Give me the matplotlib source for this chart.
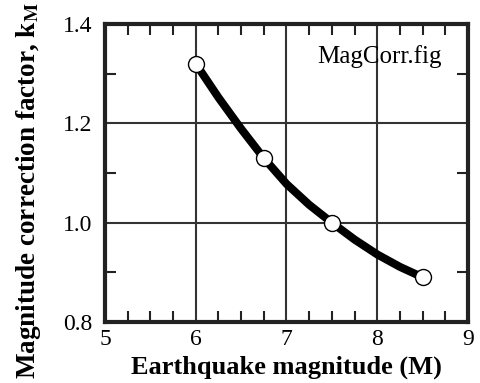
import matplotlib.pyplot as plt
from matplotlib.ticker import MultipleLocator, FormatStrFormatter

plt.rcParams['font.family'] = ['Liberation Serif', 'DejaVu Serif']
plt.rcParams['mathtext.fontset'] = 'stix'

# data points
mag = [6.0, 6.75, 7.5, 8.5]
k_m = [1.32, 1.13, 1.00, 0.89]

# fitted curve
curve_mag = [6.0, 6.25, 6.5, 6.75, 7.0, 7.25, 7.5, 7.75, 8.0, 8.25, 8.5]
curve_k = [1.32, 1.252, 1.189, 1.13, 1.078, 1.036, 1.00, 0.966, 0.936, 0.911, 0.89]

fig = plt.figure(figsize=(4.81, 3.83), dpi=100)
ax = fig.add_axes([105/481, 61/383, 363/481, 298/383])

ax.plot(curve_mag, curve_k, color='black', lw=5.8, solid_capstyle='round',
        solid_joinstyle='round', zorder=3)
ax.plot(mag, k_m, 'o', ms=11.5, mfc='white', mec='black', mew=1.0, zorder=4)

ax.set_xlim(5, 9)
ax.set_ylim(0.8, 1.4)
ax.xaxis.set_major_locator(MultipleLocator(1))
ax.xaxis.set_minor_locator(MultipleLocator(0.25))
ax.yaxis.set_major_locator(MultipleLocator(0.2))
ax.yaxis.set_minor_locator(MultipleLocator(0.1))
ax.xaxis.set_major_formatter(FormatStrFormatter('%d'))
ax.yaxis.set_major_formatter(FormatStrFormatter('%.1f'))
ax.tick_params(which='both', direction='in', top=True, right=True,
               width=1.5, color='#222222')
ax.tick_params(which='major', length=0, labelsize=17)
ax.tick_params(axis='y', which='major', pad=9)
ax.tick_params(axis='x', which='major', pad=5)
ax.tick_params(which='minor', length=8)

ax.grid(True, which='major', color='#333333', lw=1.5)
for s in ax.spines.values():
    s.set_linewidth(3)
    s.set_color('#222222')

ax.text(0.928, 0.93, 'MagCorr.fig', transform=ax.transAxes, ha='right',
        va='top', fontsize=18)

ax.set_xlabel('Earthquake magnitude (M)', fontsize=19, fontweight='bold',
              labelpad=4)
ax.set_ylabel(r'Magnitude correction factor, k$_\mathbf{M}$', fontsize=19.5,
              fontweight='bold')
ax.yaxis.set_label_coords(-0.17, (322 - 190) / 298)

fig.savefig('out.png', dpi=100)
